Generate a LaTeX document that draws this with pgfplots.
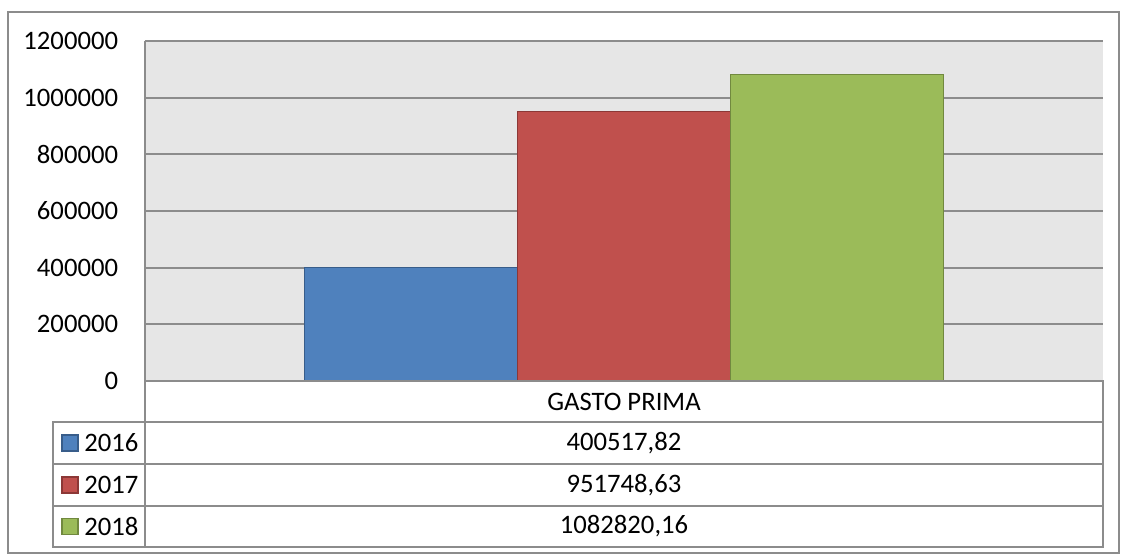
\documentclass[border=0pt]{standalone}
\usepackage{pgfplots}
\pgfplotsset{compat=1.18}
\usepackage{fontspec}
\setmainfont{Carlito}
\definecolor{c16}{HTML}{4F81BD}
\definecolor{c16d}{HTML}{385D8A}
\definecolor{c17}{HTML}{C0504D}
\definecolor{c17d}{HTML}{8C3836}
\definecolor{c18}{HTML}{9BBB59}
\definecolor{c18d}{HTML}{71893F}
\definecolor{bggray}{HTML}{E6E6E6}
\definecolor{gridgray}{HTML}{8C8C8C}
\newcommand{\lbl}{\fontsize{20}{24}\selectfont}

\begin{document}
\begin{tikzpicture}
\begin{scope}[x=0.75pt,y=-0.75pt]
  \path[use as bounding box] (0,0) rectangle (1127,554);
  \draw[gridgray, line width=1.2pt] (8,12) rectangle (1119,553);
\end{scope}

\begin{axis}[
    at={(108.75pt,-285.75pt)}, anchor=south west,
    scale only axis, width=718.5pt, height=255pt,
    xmin=-2.25, xmax=2.25, ymin=0, ymax=1200000,
    ybar, bar width=1, bar shift=0pt,
    xtick=\empty,
    ytick={0,200000,400000,600000,800000,1000000,1200000},
    scaled y ticks=false,
    yticklabel style={font=\lbl, inner sep=0pt, xshift=-20pt,
      /pgf/number format/fixed, /pgf/number format/precision=0,
      /pgf/number format/1000 sep={}, /pgf/number format/assume math mode=true},
    major tick length=0pt,
    ymajorgrids, major grid style={draw=gridgray, line width=1.4pt},
    axis line style={draw=none},
    axis background/.style={fill=bggray},
    clip=false,
]
\addplot[fill=c16, draw=c16d, line width=1pt] coordinates {(-1,400517.82)};
\addplot[fill=c17, draw=c17d, line width=1pt] coordinates {(0,951748.63)};
\addplot[fill=c18, draw=c18d, line width=1pt] coordinates {(1,1082820.16)};
\end{axis}

\begin{scope}[x=0.75pt,y=-0.75pt]
  \draw[gridgray, line width=1.4pt] (145,41) -- (145,381);
  \draw[gridgray, line width=1.5pt] (145,381) -- (1103,381) -- (1103,547) -- (53,547) -- (53,422) -- (1103,422);
  \draw[gridgray, line width=1.5pt] (145,381) -- (145,547);
  \draw[gridgray, line width=1.5pt] (53,464) -- (1103,464);
  \draw[gridgray, line width=1.5pt] (53,506) -- (1103,506);
  \node[font=\lbl] at (624,401.5) {GASTO PRIMA};
  \node[font=\lbl] at (624,443) {400517,82};
  \node[font=\lbl] at (624,485) {951748,63};
  \node[font=\lbl] at (624,526.5) {1082820,16};
  \draw[fill=c16, draw=c16d, line width=0.8pt] (62,435) rectangle (78,451);
  \draw[fill=c17, draw=c17d, line width=0.8pt] (62,477) rectangle (78,493);
  \draw[fill=c18, draw=c18d, line width=0.8pt] (62,518.5) rectangle (78,534.5);
  \node[font=\lbl, anchor=west, inner sep=0pt] at (84,443) {2016};
  \node[font=\lbl, anchor=west, inner sep=0pt] at (84,485) {2017};
  \node[font=\lbl, anchor=west, inner sep=0pt] at (84,526.5) {2018};
\end{scope}
\end{tikzpicture}
\end{document}
